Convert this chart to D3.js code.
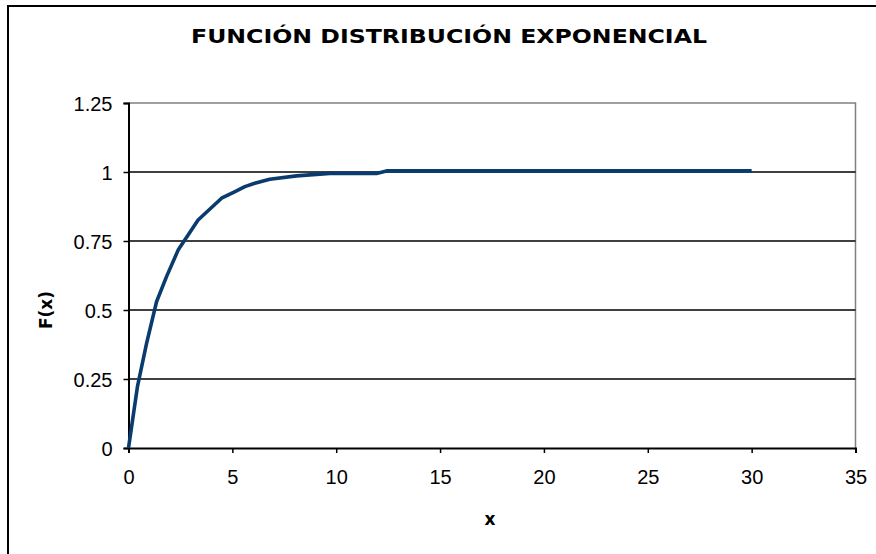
<!DOCTYPE html>
<html>
<head>
<meta charset="utf-8">
<script src="https://cdn.jsdelivr.net/npm/d3@7"></script>
<style>
  html, body { margin: 0; padding: 0; background: #fff; }
  svg { display: block; }
</style>
</head>
<body>
<svg id="chart" width="876" height="554"></svg>
<script>
// Exponential distribution function F(x)
const xValues = [0, 0.43, 0.87, 1.35, 1.83, 2.39, 3.35, 4.48, 5.13, 5.6, 6.08, 6.8, 8.09, 9.69, 11.94, 12.42,
  13, 14, 15, 16, 17, 18, 19, 20, 21, 22, 23, 24, 25, 26, 27, 28, 29, 30];
const fValues = [0, 0.222, 0.379, 0.530, 0.621, 0.717, 0.826, 0.905, 0.929, 0.947, 0.959, 0.974, 0.986, 0.995, 0.995, 1.004,
  1.004, 1.004, 1.004, 1.004, 1.004, 1.004, 1.004, 1.004, 1.004, 1.004, 1.004, 1.004, 1.004, 1.004, 1.004, 1.004, 1.004, 1.004];
const xTicks = [0, 5, 10, 15, 20, 25, 30, 35];
const yTicks = [0, 0.25, 0.5, 0.75, 1, 1.25];

const titleText = "FUNCIÓN DISTRIBUCIÓN EXPONENCIAL";
const xLabel = "x";
const yLabel = "F(x)";

const svg = d3.select("#chart");
const plot = { left: 128.5, right: 855.5, top: 103, bottom: 448 };

const x = d3.scaleLinear().domain([0, 35]).range([plot.left, plot.right]);
const y = d3.scaleLinear().domain([0, 1.25]).range([plot.bottom, plot.top]);

// outer chart frame (only top and left edges fall inside the view)
svg.append("rect")
  .attr("x", 8).attr("y", 6)
  .attr("width", 900).attr("height", 600)
  .attr("fill", "none").attr("stroke", "#000").attr("stroke-width", 2);

// plot border on the top and right
svg.append("path")
  .attr("d", `M${plot.left},${plot.top}H${plot.right}V${plot.bottom}`)
  .attr("fill", "none").attr("stroke", "#808080").attr("stroke-width", 1.5);

// horizontal gridlines
svg.append("g")
  .selectAll("line")
  .data(yTicks.filter(d => d > 0 && d < 1.25))
  .join("line")
  .attr("x1", plot.left).attr("x2", plot.right)
  .attr("y1", d => y(d)).attr("y2", d => y(d))
  .attr("stroke", "#000").attr("stroke-width", 1.5);

// axes
const xAxis = svg.append("g")
  .attr("transform", `translate(0,${plot.bottom})`)
  .call(d3.axisBottom(x).tickValues(xTicks).tickFormat(d3.format("d")).tickSize(5).tickPadding(16.5));
const yAxis = svg.append("g")
  .attr("transform", `translate(${plot.left},0)`)
  .call(d3.axisLeft(y).tickValues(yTicks).tickFormat(d => String(d)).tickSize(5).tickPadding(11));

[xAxis, yAxis].forEach(g => {
  g.select(".domain").attr("stroke", "#000").attr("stroke-width", 2);
  g.selectAll(".tick line").attr("stroke", "#000").attr("stroke-width", 1.5);
  g.selectAll(".tick text")
    .attr("fill", "#000")
    .style("font-family", "'Liberation Sans', Arial, sans-serif")
    .style("font-size", "20px");
});
yAxis.selectAll(".tick text").attr("dy", "0.36em");

// data curve
const line = d3.line().x((d, i) => x(xValues[i])).y((d, i) => y(fValues[i]));
svg.append("path")
  .datum(fValues)
  .attr("d", line)
  .attr("fill", "none")
  .attr("stroke", "#0a3b6e")
  .attr("stroke-width", 3.6)
  .attr("stroke-linejoin", "round");

// title and axis labels
svg.append("text")
  .attr("x", 449).attr("y", 43)
  .attr("text-anchor", "middle")
  .attr("textLength", 516).attr("lengthAdjust", "spacingAndGlyphs")
  .style("font-family", "'DejaVu Sans', Verdana, sans-serif")
  .style("font-weight", "bold")
  .style("font-size", "20px")
  .text(titleText);

svg.append("text")
  .attr("x", 490).attr("y", 525)
  .attr("text-anchor", "middle")
  .style("font-family", "'DejaVu Sans', Verdana, sans-serif")
  .style("font-weight", "bold")
  .style("font-size", "17px")
  .text(xLabel);

svg.append("text")
  .attr("transform", "translate(52,310) rotate(-90)")
  .attr("text-anchor", "middle")
  .style("font-family", "'DejaVu Sans', Verdana, sans-serif")
  .style("font-weight", "bold")
  .style("font-size", "17px")
  .text(yLabel);
</script>
</body>
</html>
